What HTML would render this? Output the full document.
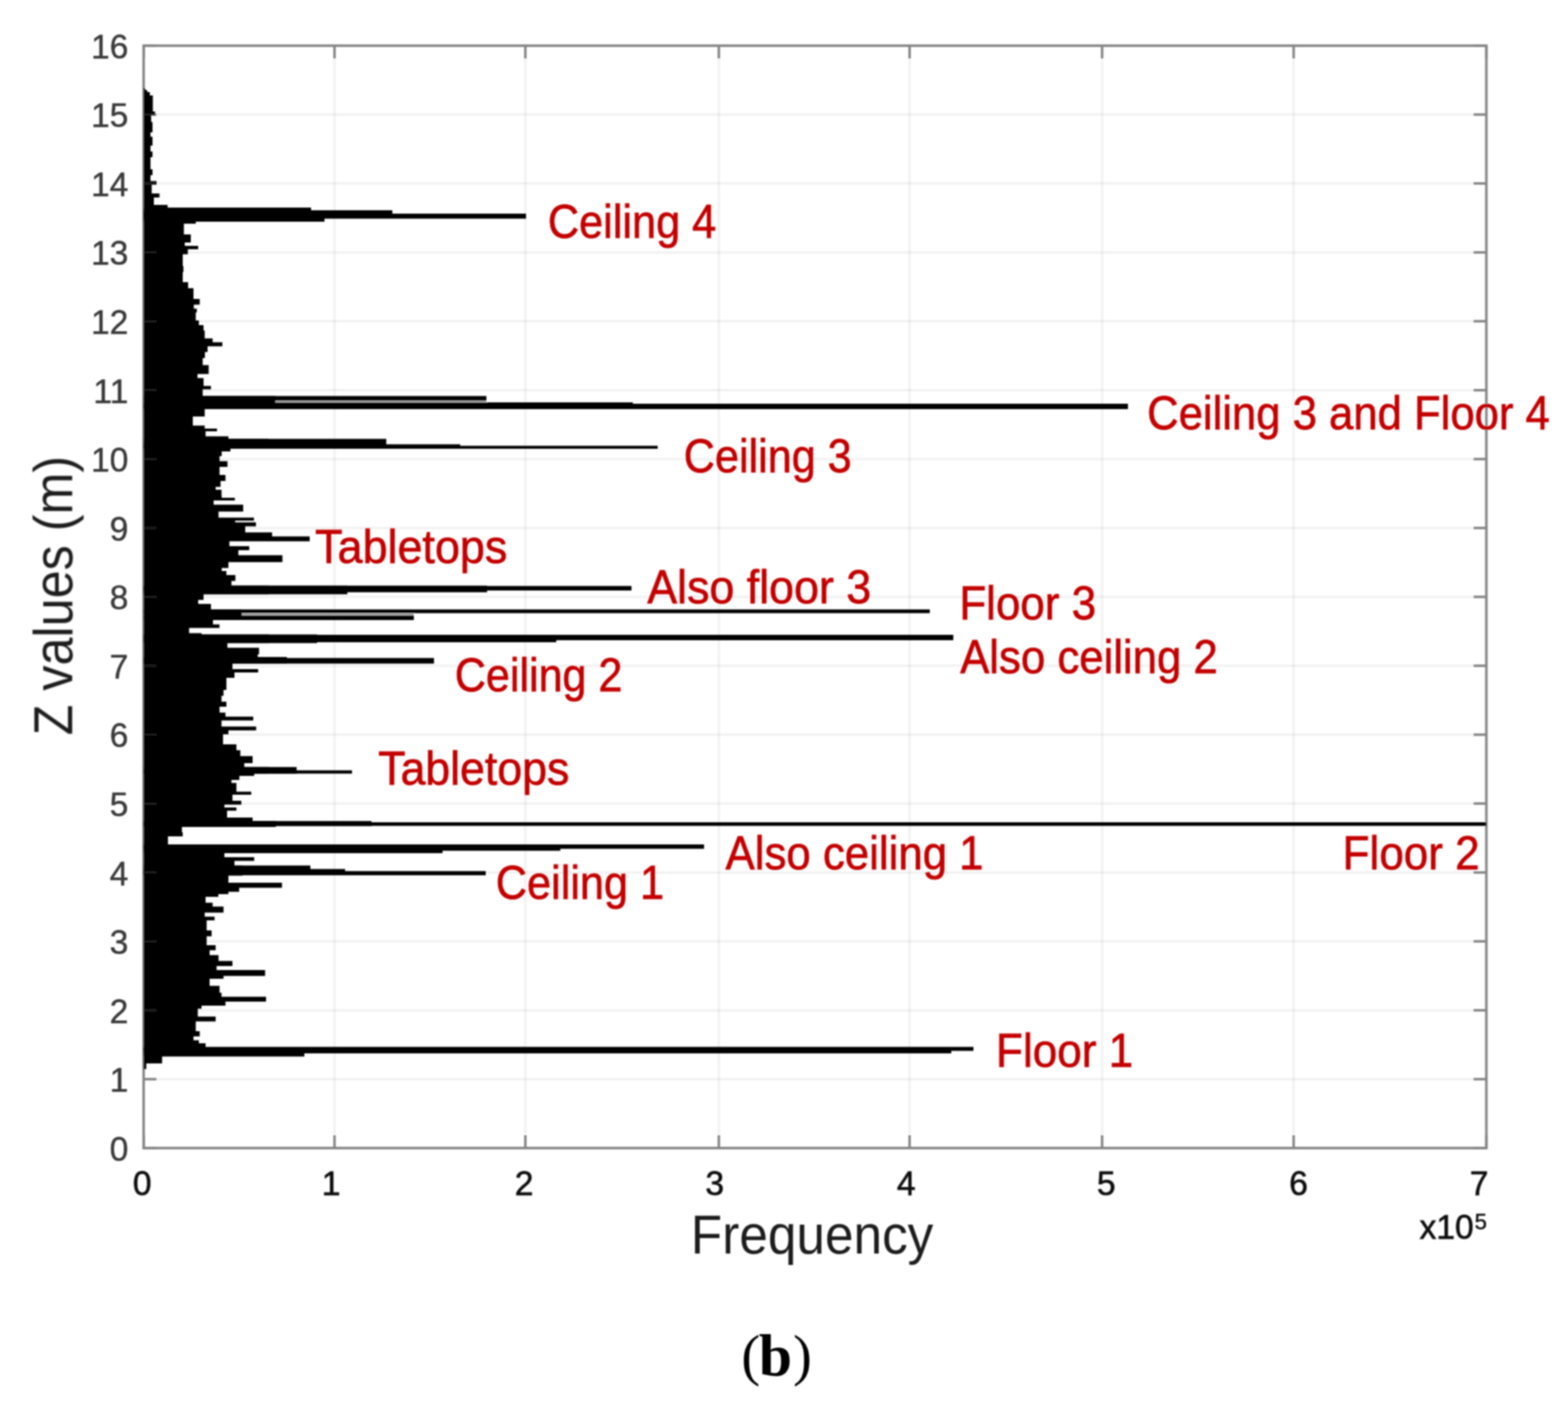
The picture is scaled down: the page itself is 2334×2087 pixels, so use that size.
<!DOCTYPE html>
<html><head><meta charset="utf-8"><title>Z values histogram</title>
<style>
html,body{margin:0;padding:0;background:#fff;}
body{width:2334px;height:2087px;overflow:hidden;}
svg{display:block;}
</style></head><body>
<svg width="2334" height="2087" viewBox="0 0 2334 2087">
<defs><filter id="soft" x="0" y="0" width="2334" height="2087" filterUnits="userSpaceOnUse"><feGaussianBlur stdDeviation="0.9"/></filter></defs>
<rect width="2334" height="2087" fill="#fff"/>
<g filter="url(#soft)">
<g stroke="#000" stroke-opacity="0.055" stroke-width="3.5">
<line x1="213.8" y1="1606.44" x2="2212.5" y2="1606.44"/>
<line x1="213.8" y1="1503.88" x2="2212.5" y2="1503.88"/>
<line x1="213.8" y1="1401.31" x2="2212.5" y2="1401.31"/>
<line x1="213.8" y1="1298.75" x2="2212.5" y2="1298.75"/>
<line x1="213.8" y1="1196.19" x2="2212.5" y2="1196.19"/>
<line x1="213.8" y1="1093.62" x2="2212.5" y2="1093.62"/>
<line x1="213.8" y1="991.06" x2="2212.5" y2="991.06"/>
<line x1="213.8" y1="888.50" x2="2212.5" y2="888.50"/>
<line x1="213.8" y1="785.94" x2="2212.5" y2="785.94"/>
<line x1="213.8" y1="683.38" x2="2212.5" y2="683.38"/>
<line x1="213.8" y1="580.81" x2="2212.5" y2="580.81"/>
<line x1="213.8" y1="478.25" x2="2212.5" y2="478.25"/>
<line x1="213.8" y1="375.69" x2="2212.5" y2="375.69"/>
<line x1="213.8" y1="273.12" x2="2212.5" y2="273.12"/>
<line x1="213.8" y1="170.56" x2="2212.5" y2="170.56"/>
<line x1="497.90" y1="68.0" x2="497.90" y2="1709.0"/>
<line x1="782.00" y1="68.0" x2="782.00" y2="1709.0"/>
<line x1="1070.00" y1="68.0" x2="1070.00" y2="1709.0"/>
<line x1="1353.90" y1="68.0" x2="1353.90" y2="1709.0"/>
<line x1="1640.50" y1="68.0" x2="1640.50" y2="1709.0"/>
<line x1="1925.60" y1="68.0" x2="1925.60" y2="1709.0"/>
</g>
<g stroke="#858585" stroke-width="3.6">
<line x1="213.8" y1="1709.00" x2="232.8" y2="1709.00"/>
<line x1="2212.5" y1="1709.00" x2="2193.5" y2="1709.00"/>
<line x1="213.8" y1="1606.44" x2="232.8" y2="1606.44"/>
<line x1="2212.5" y1="1606.44" x2="2193.5" y2="1606.44"/>
<line x1="213.8" y1="1503.88" x2="232.8" y2="1503.88"/>
<line x1="2212.5" y1="1503.88" x2="2193.5" y2="1503.88"/>
<line x1="213.8" y1="1401.31" x2="232.8" y2="1401.31"/>
<line x1="2212.5" y1="1401.31" x2="2193.5" y2="1401.31"/>
<line x1="213.8" y1="1298.75" x2="232.8" y2="1298.75"/>
<line x1="2212.5" y1="1298.75" x2="2193.5" y2="1298.75"/>
<line x1="213.8" y1="1196.19" x2="232.8" y2="1196.19"/>
<line x1="2212.5" y1="1196.19" x2="2193.5" y2="1196.19"/>
<line x1="213.8" y1="1093.62" x2="232.8" y2="1093.62"/>
<line x1="2212.5" y1="1093.62" x2="2193.5" y2="1093.62"/>
<line x1="213.8" y1="991.06" x2="232.8" y2="991.06"/>
<line x1="2212.5" y1="991.06" x2="2193.5" y2="991.06"/>
<line x1="213.8" y1="888.50" x2="232.8" y2="888.50"/>
<line x1="2212.5" y1="888.50" x2="2193.5" y2="888.50"/>
<line x1="213.8" y1="785.94" x2="232.8" y2="785.94"/>
<line x1="2212.5" y1="785.94" x2="2193.5" y2="785.94"/>
<line x1="213.8" y1="683.38" x2="232.8" y2="683.38"/>
<line x1="2212.5" y1="683.38" x2="2193.5" y2="683.38"/>
<line x1="213.8" y1="580.81" x2="232.8" y2="580.81"/>
<line x1="2212.5" y1="580.81" x2="2193.5" y2="580.81"/>
<line x1="213.8" y1="478.25" x2="232.8" y2="478.25"/>
<line x1="2212.5" y1="478.25" x2="2193.5" y2="478.25"/>
<line x1="213.8" y1="375.69" x2="232.8" y2="375.69"/>
<line x1="2212.5" y1="375.69" x2="2193.5" y2="375.69"/>
<line x1="213.8" y1="273.12" x2="232.8" y2="273.12"/>
<line x1="2212.5" y1="273.12" x2="2193.5" y2="273.12"/>
<line x1="213.8" y1="170.56" x2="232.8" y2="170.56"/>
<line x1="2212.5" y1="170.56" x2="2193.5" y2="170.56"/>
<line x1="213.8" y1="68.00" x2="232.8" y2="68.00"/>
<line x1="2212.5" y1="68.00" x2="2193.5" y2="68.00"/>
<line x1="213.80" y1="68.0" x2="213.80" y2="87.0"/>
<line x1="213.80" y1="1709.0" x2="213.80" y2="1690.0"/>
<line x1="497.90" y1="68.0" x2="497.90" y2="87.0"/>
<line x1="497.90" y1="1709.0" x2="497.90" y2="1690.0"/>
<line x1="782.00" y1="68.0" x2="782.00" y2="87.0"/>
<line x1="782.00" y1="1709.0" x2="782.00" y2="1690.0"/>
<line x1="1070.00" y1="68.0" x2="1070.00" y2="87.0"/>
<line x1="1070.00" y1="1709.0" x2="1070.00" y2="1690.0"/>
<line x1="1353.90" y1="68.0" x2="1353.90" y2="87.0"/>
<line x1="1353.90" y1="1709.0" x2="1353.90" y2="1690.0"/>
<line x1="1640.50" y1="68.0" x2="1640.50" y2="87.0"/>
<line x1="1640.50" y1="1709.0" x2="1640.50" y2="1690.0"/>
<line x1="1925.60" y1="68.0" x2="1925.60" y2="87.0"/>
<line x1="1925.60" y1="1709.0" x2="1925.60" y2="1690.0"/>
<line x1="2212.50" y1="68.0" x2="2212.50" y2="87.0"/>
<line x1="2212.50" y1="1709.0" x2="2212.50" y2="1690.0"/>
</g>
<rect x="213.8" y="68.0" width="1998.7" height="1641.0" fill="none" stroke="#868686" stroke-width="3.8"/>
<g fill="#000">
<path d="M213.8 131.0 L216.0 131.0 L216.0 134.0 L219.0 134.0 L219.0 137.0 L223.0 137.0 L223.0 142.0 L227.5 142.0 L227.5 166.0 L230.8 166.0 L230.8 171.6 L225.0 171.6 L225.0 181.5 L227.0 181.5 L227.0 197.0 L224.0 197.0 L224.0 203.5 L227.0 203.5 L227.0 216.7 L224.0 216.7 L224.0 225.5 L227.0 225.5 L227.0 234.0 L224.0 234.0 L224.0 252.0 L227.0 252.0 L227.0 260.7 L224.0 260.7 L224.0 269.5 L233.0 269.5 L233.0 275.0 L225.8 275.0 L225.8 288.0 L237.4 288.0 L237.4 294.0 L229.0 294.0 L229.0 305.0 L249.5 305.0 L249.5 309.0 L300.0 309.0 L300.0 330.0 L291.4 330.0 L291.4 333.0 L273.7 333.0 L273.7 349.0 L284.0 349.0 L284.0 361.0 L275.0 361.0 L275.0 366.0 L295.0 366.0 L295.0 371.0 L279.6 371.0 L279.6 378.5 L272.0 378.5 L272.0 396.0 L273.0 396.0 L273.0 405.0 L272.0 405.0 L272.0 420.0 L280.0 420.0 L280.0 429.0 L288.0 429.0 L288.0 445.0 L297.3 445.0 L297.3 453.6 L288.5 453.6 L288.5 459.5 L293.0 459.5 L293.0 465.0 L291.4 465.0 L291.4 477.0 L296.0 477.0 L296.0 484.0 L303.0 484.0 L303.0 492.0 L304.7 492.0 L304.7 503.7 L316.5 503.7 L316.5 509.6 L331.0 509.6 L331.0 515.5 L309.0 515.5 L309.0 524.0 L305.0 524.0 L305.0 533.0 L301.7 533.0 L301.7 543.5 L310.6 543.5 L310.6 556.8 L294.0 556.8 L294.0 562.7 L303.0 562.7 L303.0 574.4 L314.0 574.4 L314.0 579.6 L301.7 579.6 L301.7 589.5 L410.0 589.5 L410.0 609.0 L304.7 609.0 L304.7 620.0 L287.0 620.0 L287.0 633.4 L304.7 633.4 L304.7 638.0 L323.0 638.0 L323.0 642.0 L306.0 642.0 L306.0 649.6 L340.0 649.6 L340.0 653.3 L400.0 653.3 L400.0 668.0 L343.0 668.0 L343.0 672.0 L330.0 672.0 L330.0 679.0 L326.8 679.0 L326.8 686.5 L338.6 686.5 L338.6 695.0 L326.8 695.0 L326.8 707.0 L335.6 707.0 L335.6 716.0 L328.3 716.0 L328.3 724.7 L321.0 724.7 L321.0 729.0 L329.7 729.0 L329.7 738.0 L330.0 738.0 L330.0 741.0 L349.6 741.0 L349.6 745.0 L318.0 745.0 L318.0 751.3 L362.0 751.3 L362.0 761.6 L325.3 761.6 L325.3 770.4 L378.0 770.4 L378.0 775.0 L350.0 775.0 L350.0 777.4 L381.0 777.4 L381.0 783.5 L365.0 783.5 L365.0 786.7 L365.0 786.7 L365.0 792.6 L405.0 792.6 L405.0 798.5 L461.0 798.5 L461.0 805.8 L341.5 805.8 L341.5 813.0 L371.0 813.0 L371.0 819.0 L354.8 819.0 L354.8 826.5 L420.4 826.5 L420.4 836.8 L340.0 836.8 L340.0 845.6 L330.0 845.6 L330.0 850.0 L337.0 850.0 L337.0 856.0 L350.4 856.0 L350.4 864.7 L344.5 864.7 L344.5 871.8 L400.0 871.8 L400.0 884.6 L303.0 884.6 L303.0 893.0 L295.0 893.0 L295.0 899.0 L314.0 899.0 L314.0 907.2 L360.0 907.2 L360.0 923.0 L317.0 923.0 L317.0 929.6 L326.7 929.6 L326.7 934.7 L281.5 934.7 L281.5 942.6 L300.0 942.6 L300.0 944.5 L400.0 944.5 L400.0 957.3 L338.5 957.3 L338.5 964.2 L385.6 964.2 L385.6 974.0 L383.7 974.0 L383.7 978.0 L400.0 978.0 L400.0 987.8 L346.0 987.8 L346.0 996.0 L384.3 996.0 L384.3 1001.0 L349.0 1001.0 L349.0 1009.0 L337.0 1009.0 L337.0 1027.0 L332.7 1027.0 L332.7 1035.7 L329.7 1035.7 L329.7 1044.5 L337.0 1044.5 L337.0 1052.0 L326.8 1052.0 L326.8 1060.8 L335.6 1060.8 L335.6 1066.7 L377.0 1066.7 L377.0 1072.6 L329.7 1072.6 L329.7 1081.4 L381.3 1081.4 L381.3 1087.3 L340.0 1087.3 L340.0 1093.0 L332.0 1093.0 L332.0 1108.0 L351.9 1108.0 L351.9 1116.8 L357.7 1116.8 L357.7 1125.6 L376.0 1125.6 L376.0 1136.0 L363.6 1136.0 L363.6 1141.8 L400.0 1141.8 L400.0 1151.6 L378.4 1151.6 L378.4 1155.0 L356.3 1155.0 L356.3 1161.0 L344.5 1161.0 L344.5 1165.4 L351.9 1165.4 L351.9 1178.6 L374.0 1178.6 L374.0 1183.0 L346.0 1183.0 L346.0 1192.0 L359.2 1192.0 L359.2 1197.8 L334.0 1197.8 L334.0 1202.0 L351.9 1202.0 L351.9 1206.7 L338.0 1206.7 L338.0 1217.0 L376.0 1217.0 L376.0 1222.0 L400.0 1222.0 L400.0 1231.0 L270.8 1231.0 L270.8 1239.0 L272.0 1239.0 L272.0 1245.0 L250.0 1245.0 L250.0 1257.8 L400.0 1257.8 L400.0 1270.0 L334.0 1270.0 L334.0 1276.0 L378.4 1276.0 L378.4 1281.5 L349.0 1281.5 L349.0 1288.4 L361.0 1288.4 L361.0 1303.5 L340.0 1303.5 L340.0 1314.0 L419.7 1314.0 L419.7 1321.5 L356.0 1321.5 L356.0 1327.5 L340.0 1327.5 L340.0 1331.0 L325.0 1331.0 L325.0 1335.0 L306.0 1335.0 L306.0 1343.7 L316.5 1343.7 L316.5 1349.6 L332.7 1349.6 L332.7 1358.5 L304.7 1358.5 L304.7 1364.4 L319.4 1364.4 L319.4 1370.0 L307.6 1370.0 L307.6 1385.0 L315.0 1385.0 L315.0 1393.8 L307.6 1393.8 L307.6 1407.0 L321.0 1407.0 L321.0 1414.5 L312.0 1414.5 L312.0 1421.8 L325.3 1421.8 L325.3 1430.6 L346.0 1430.6 L346.0 1438.0 L322.4 1438.0 L322.4 1444.0 L394.6 1444.0 L394.6 1452.8 L332.7 1452.8 L332.7 1457.0 L312.0 1457.0 L312.0 1467.5 L326.8 1467.5 L326.8 1477.8 L329.7 1477.8 L329.7 1483.7 L396.0 1483.7 L396.0 1491.0 L335.6 1491.0 L335.6 1497.0 L300.0 1497.0 L300.0 1501.4 L294.4 1501.4 L294.4 1513.2 L321.0 1513.2 L321.0 1520.6 L291.4 1520.6 L291.4 1535.0 L297.3 1535.0 L297.3 1542.7 L288.0 1542.7 L288.0 1548.6 L296.0 1548.6 L296.0 1553.0 L306.0 1553.0 L306.0 1559.0 L453.0 1559.0 L453.0 1572.4 L241.3 1572.4 L241.3 1583.0 L217.7 1583.0 L217.7 1591.6 L213.8 1591.6 Z"/>
<rect x="410.0" y="596.5" width="314.0" height="2.5" fill="#a8a8a8"/>
<rect x="360.0" y="912.7" width="256.0" height="3.3" fill="#a8a8a8"/>
<rect x="213.8" y="309.0" width="249.2" height="21.0"/>
<rect x="213.8" y="313.0" width="269.2" height="17.0"/>
<rect x="213.8" y="313.0" width="370.2" height="11.0"/>
<rect x="213.8" y="318.0" width="569.2" height="7.5"/>
<rect x="213.8" y="589.5" width="510.2" height="7.0"/>
<rect x="213.8" y="599.0" width="728.2" height="9.5"/>
<rect x="213.8" y="601.0" width="1465.2" height="8.0"/>
<rect x="213.8" y="653.3" width="361.2" height="14.2"/>
<rect x="213.8" y="661.4" width="471.2" height="6.1"/>
<rect x="213.8" y="663.6" width="765.2" height="4.4"/>
<rect x="213.8" y="871.8" width="303.2" height="12.8"/>
<rect x="213.8" y="871.8" width="511.2" height="9.8"/>
<rect x="213.8" y="872.3" width="726.2" height="6.7"/>
<rect x="213.8" y="907.2" width="1170.2" height="5.5"/>
<rect x="213.8" y="916.0" width="402.2" height="7.0"/>
<rect x="213.8" y="944.5" width="258.2" height="12.8"/>
<rect x="213.8" y="946.0" width="614.2" height="10.0"/>
<rect x="213.8" y="945.0" width="1205.2" height="8.0"/>
<rect x="213.8" y="978.0" width="213.2" height="9.8"/>
<rect x="213.8" y="979.5" width="432.2" height="8.3"/>
<rect x="213.8" y="1141.8" width="227.7" height="9.8"/>
<rect x="213.8" y="1146.7" width="310.2" height="4.9"/>
<rect x="213.8" y="1222.0" width="196.8" height="9.0"/>
<rect x="213.8" y="1222.2" width="339.2" height="7.4"/>
<rect x="213.8" y="1224.0" width="1998.7" height="5.4"/>
<rect x="213.8" y="1257.8" width="444.9" height="12.2"/>
<rect x="213.8" y="1257.8" width="620.2" height="8.6"/>
<rect x="213.8" y="1257.0" width="834.2" height="6.5"/>
<rect x="213.8" y="1288.4" width="248.2" height="13.4"/>
<rect x="213.8" y="1293.6" width="299.9" height="8.2"/>
<rect x="213.8" y="1296.7" width="509.2" height="6.2"/>
<rect x="213.8" y="1559.0" width="239.2" height="13.4"/>
<rect x="213.8" y="1559.0" width="1202.2" height="9.0"/>
<rect x="213.8" y="1558.4" width="1235.2" height="5.9"/>
</g>
<g stroke="#858585" stroke-width="3.6" stroke-opacity="0.22">
<line x1="213.8" y1="1709.00" x2="232.8" y2="1709.00"/>
<line x1="2212.5" y1="1709.00" x2="2193.5" y2="1709.00"/>
<line x1="213.8" y1="1606.44" x2="232.8" y2="1606.44"/>
<line x1="2212.5" y1="1606.44" x2="2193.5" y2="1606.44"/>
<line x1="213.8" y1="1503.88" x2="232.8" y2="1503.88"/>
<line x1="2212.5" y1="1503.88" x2="2193.5" y2="1503.88"/>
<line x1="213.8" y1="1401.31" x2="232.8" y2="1401.31"/>
<line x1="2212.5" y1="1401.31" x2="2193.5" y2="1401.31"/>
<line x1="213.8" y1="1298.75" x2="232.8" y2="1298.75"/>
<line x1="2212.5" y1="1298.75" x2="2193.5" y2="1298.75"/>
<line x1="213.8" y1="1196.19" x2="232.8" y2="1196.19"/>
<line x1="2212.5" y1="1196.19" x2="2193.5" y2="1196.19"/>
<line x1="213.8" y1="1093.62" x2="232.8" y2="1093.62"/>
<line x1="2212.5" y1="1093.62" x2="2193.5" y2="1093.62"/>
<line x1="213.8" y1="991.06" x2="232.8" y2="991.06"/>
<line x1="2212.5" y1="991.06" x2="2193.5" y2="991.06"/>
<line x1="213.8" y1="888.50" x2="232.8" y2="888.50"/>
<line x1="2212.5" y1="888.50" x2="2193.5" y2="888.50"/>
<line x1="213.8" y1="785.94" x2="232.8" y2="785.94"/>
<line x1="2212.5" y1="785.94" x2="2193.5" y2="785.94"/>
<line x1="213.8" y1="683.38" x2="232.8" y2="683.38"/>
<line x1="2212.5" y1="683.38" x2="2193.5" y2="683.38"/>
<line x1="213.8" y1="580.81" x2="232.8" y2="580.81"/>
<line x1="2212.5" y1="580.81" x2="2193.5" y2="580.81"/>
<line x1="213.8" y1="478.25" x2="232.8" y2="478.25"/>
<line x1="2212.5" y1="478.25" x2="2193.5" y2="478.25"/>
<line x1="213.8" y1="375.69" x2="232.8" y2="375.69"/>
<line x1="2212.5" y1="375.69" x2="2193.5" y2="375.69"/>
<line x1="213.8" y1="273.12" x2="232.8" y2="273.12"/>
<line x1="2212.5" y1="273.12" x2="2193.5" y2="273.12"/>
<line x1="213.8" y1="170.56" x2="232.8" y2="170.56"/>
<line x1="2212.5" y1="170.56" x2="2193.5" y2="170.56"/>
<line x1="213.8" y1="68.00" x2="232.8" y2="68.00"/>
<line x1="2212.5" y1="68.00" x2="2193.5" y2="68.00"/>
<line x1="213.80" y1="68.0" x2="213.80" y2="87.0"/>
<line x1="213.80" y1="1709.0" x2="213.80" y2="1690.0"/>
<line x1="497.90" y1="68.0" x2="497.90" y2="87.0"/>
<line x1="497.90" y1="1709.0" x2="497.90" y2="1690.0"/>
<line x1="782.00" y1="68.0" x2="782.00" y2="87.0"/>
<line x1="782.00" y1="1709.0" x2="782.00" y2="1690.0"/>
<line x1="1070.00" y1="68.0" x2="1070.00" y2="87.0"/>
<line x1="1070.00" y1="1709.0" x2="1070.00" y2="1690.0"/>
<line x1="1353.90" y1="68.0" x2="1353.90" y2="87.0"/>
<line x1="1353.90" y1="1709.0" x2="1353.90" y2="1690.0"/>
<line x1="1640.50" y1="68.0" x2="1640.50" y2="87.0"/>
<line x1="1640.50" y1="1709.0" x2="1640.50" y2="1690.0"/>
<line x1="1925.60" y1="68.0" x2="1925.60" y2="87.0"/>
<line x1="1925.60" y1="1709.0" x2="1925.60" y2="1690.0"/>
<line x1="2212.50" y1="68.0" x2="2212.50" y2="87.0"/>
<line x1="2212.50" y1="1709.0" x2="2212.50" y2="1690.0"/>
</g>
<g font-family="'Liberation Sans', Arial, Helvetica, sans-serif" font-size="50" fill="#3a3a3a" stroke="#3a3a3a" stroke-width="0.6" text-anchor="end">
<text x="191" y="1727.7">0</text>
<text x="191" y="1625.1">1</text>
<text x="191" y="1522.6">2</text>
<text x="191" y="1420.0">3</text>
<text x="191" y="1317.5">4</text>
<text x="191" y="1214.9">5</text>
<text x="191" y="1112.3">6</text>
<text x="191" y="1009.8">7</text>
<text x="191" y="907.2">8</text>
<text x="191" y="804.6">9</text>
<text x="191" y="702.1">10</text>
<text x="191" y="599.5">11</text>
<text x="191" y="496.9">12</text>
<text x="191" y="394.4">13</text>
<text x="191" y="291.8">14</text>
<text x="191" y="189.3">15</text>
<text x="191" y="86.7">16</text>
</g>
<g font-family="'Liberation Sans', Arial, Helvetica, sans-serif" font-size="50" fill="#111" stroke="#111" stroke-width="0.9" text-anchor="middle">
<text x="211.6" y="1779">0</text>
<text x="493.0" y="1779">1</text>
<text x="780.1" y="1779">2</text>
<text x="1063.8" y="1779">3</text>
<text x="1349.0" y="1779">4</text>
<text x="1646.6" y="1779">5</text>
<text x="1933.0" y="1779">6</text>
<text x="2201.6" y="1779">7</text>
</g>
<g font-family="'Liberation Sans', Arial, Helvetica, sans-serif" fill="#1e1e1e">
<text x="1028.3" y="1866.2" font-size="82" textLength="361" lengthAdjust="spacingAndGlyphs">Frequency</text>
<text transform="translate(107.4,1094.6) rotate(-90)" font-size="81" textLength="416" lengthAdjust="spacingAndGlyphs">Z values (m)</text>
<text x="2113" y="1843.7" font-size="50" fill="#111" stroke="#111" stroke-width="0.9">x10</text>
<text x="2195" y="1830" font-size="33" fill="#111" stroke="#111" stroke-width="0.6">5</text>
</g>
<g font-family="'Liberation Sans', Arial, Helvetica, sans-serif" font-size="70" fill="#c40000" stroke="#c40000" stroke-width="1.0">
<text x="815.5" y="354.1" textLength="250.7" lengthAdjust="spacingAndGlyphs">Ceiling 4</text>
<text x="1707.5" y="639.1" textLength="599.5" lengthAdjust="spacingAndGlyphs">Ceiling 3 and Floor 4</text>
<text x="1017.8" y="702.7" textLength="250.0" lengthAdjust="spacingAndGlyphs">Ceiling 3</text>
<text x="469.1" y="837.8" textLength="286.1" lengthAdjust="spacingAndGlyphs">Tabletops</text>
<text x="963.4" y="898.4" textLength="333.3" lengthAdjust="spacingAndGlyphs">Also floor 3</text>
<text x="1427.9" y="921.9" textLength="203.7" lengthAdjust="spacingAndGlyphs">Floor 3</text>
<text x="1429.2" y="1002.4" textLength="383.6" lengthAdjust="spacingAndGlyphs">Also ceiling 2</text>
<text x="677.0" y="1028.5" textLength="249.5" lengthAdjust="spacingAndGlyphs">Ceiling 2</text>
<text x="562.9" y="1167.8" textLength="284.6" lengthAdjust="spacingAndGlyphs">Tabletops</text>
<text x="1080.0" y="1294.3" textLength="384.0" lengthAdjust="spacingAndGlyphs">Also ceiling 1</text>
<text x="1998.6" y="1294.3" textLength="203.8" lengthAdjust="spacingAndGlyphs">Floor 2</text>
<text x="738.1" y="1338.1" textLength="250.4" lengthAdjust="spacingAndGlyphs">Ceiling 1</text>
<text x="1482.6" y="1587.7" textLength="204.1" lengthAdjust="spacingAndGlyphs">Floor 1</text>
</g>
<g font-family="'Liberation Serif', 'Times New Roman', serif" fill="#000">
<text x="1103.5" y="2045.5" font-size="84">(</text>
<text x="1129.5" y="2047.5" font-size="89" font-weight="bold">b</text>
<text x="1180.5" y="2045.5" font-size="84">)</text>
</g>
</g>
</svg>
</body></html>
